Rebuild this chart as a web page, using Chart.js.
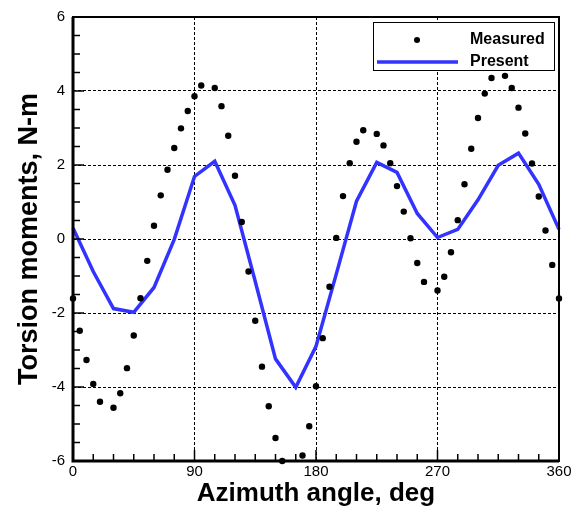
<!DOCTYPE html>
<html>
<head>
<meta charset="utf-8">
<script src="https://cdn.jsdelivr.net/npm/chart.js@4.4.1/dist/chart.umd.min.js"></script>
<style>
  html, body { margin: 0; padding: 0; background: #fff; }
</style>
</head>
<body>
<canvas id="torsionChart" width="584" height="510"></canvas>
<script>
// measured points (deg, N-m) - a few angles have no point in the source
const measuredAngle = [0, 5, 10, 15, 20, 30, 35, 40, 45, 50, 55, 60, 65, 70, 75, 80, 85, 90, 95,
  105, 110, 115, 120, 125, 130, 135, 140, 145, 150, 155, 170, 175, 180, 185, 190, 195, 200,
  205, 210, 215, 225, 230, 235, 240, 245, 250, 255, 260, 270, 275, 280, 285, 290, 295, 300,
  305, 310, 320, 325, 330, 335, 340, 345, 350, 355, 360];
const measuredTorsion = [-1.61, -2.48, -3.27, -3.92, -4.40, -4.56, -4.17, -3.49, -2.61, -1.60, -0.59,
  0.36, 1.18, 1.87, 2.46, 2.99, 3.46, 3.86, 4.15,
  4.08, 3.59, 2.79, 1.71, 0.46, -0.88, -2.21, -3.45, -4.52, -5.38, -6.0, -5.85, -5.06, -3.98, -2.68, -1.29, 0.03, 1.16,
  2.05, 2.63, 2.94, 2.84, 2.53, 2.05, 1.43, 0.74, 0.02, -0.65, -1.16, -1.39, -1.02, -0.36, 0.51, 1.48, 2.44, 3.27,
  3.93, 4.35, 4.41, 4.08, 3.55, 2.85, 2.04, 1.15, 0.23, -0.70, -1.61];

// present computation, every 15 deg
const presentAngle = [0, 15, 30, 45, 60, 75, 90, 105, 120, 135, 150, 165, 180, 195, 210, 225, 240, 255,
  270, 285, 300, 315, 330, 345, 360];
const presentTorsion = [0.30, -0.88, -1.88, -1.98, -1.31, -0.01, 1.69, 2.10, 0.91, -1.15, -3.24, -4.01,
  -2.90, -0.95, 1.02, 2.07, 1.80, 0.69, 0.04, 0.26, 1.06, 1.99, 2.32, 1.48, 0.26];

const xTicks = [0, 90, 180, 270, 360];
const yTicks = [-6, -4, -2, 0, 2, 4, 6];

const blue = 'rgb(51,51,255)';

// inward tick marks + frame, like the original plot
const frameTicks = {
  id: 'frameTicks',
  afterDatasetsDraw(chart) {
    const { ctx, chartArea: a, scales: { x, y } } = chart;
    ctx.save();
    ctx.strokeStyle = '#000';
    ctx.lineWidth = 1.5;
    for (let v = 0; v <= 360; v += 15) {
      const px = x.getPixelForValue(v);
      const len = xTicks.includes(v) ? 11 : 7;
      ctx.beginPath(); ctx.moveTo(px, a.bottom); ctx.lineTo(px, a.bottom - len); ctx.stroke();
    }
    for (let v = -6; v <= 6; v += 0.5) {
      const py = y.getPixelForValue(v);
      const len = yTicks.includes(v) ? 11 : 7;
      ctx.beginPath(); ctx.moveTo(a.left, py); ctx.lineTo(a.left + len, py); ctx.stroke();
    }
    ctx.lineWidth = 2;
    ctx.strokeRect(a.left, a.top, a.right - a.left, a.bottom - a.top);
    ctx.lineWidth = 3;
    ctx.beginPath();
    ctx.moveTo(a.left, a.top); ctx.lineTo(a.left, a.bottom); ctx.lineTo(a.right, a.bottom);
    ctx.stroke();
    ctx.restore();
  }
};

// boxed legend in the top right corner
const boxLegend = {
  id: 'boxLegend',
  afterDraw(chart) {
    const { ctx, chartArea: a } = chart;
    const ds = chart.data.datasets;
    const w = 181, h = 48;
    const bx = a.right - 5 - w, by = a.top + 5;
    ctx.save();
    ctx.fillStyle = '#fff';
    ctx.fillRect(bx, by, w, h);
    ctx.strokeStyle = '#000';
    ctx.lineWidth = 1;
    ctx.strokeRect(bx + 0.5, by + 0.5, w, h);
    ctx.font = 'bold 16px "Liberation Sans", Arial, sans-serif';
    ctx.textBaseline = 'middle';
    ctx.fillStyle = '#000';
    // Measured
    ctx.beginPath();
    ctx.arc(bx + 44, by + 18, 3, 0, Math.PI * 2);
    ctx.fill();
    ctx.fillText(ds[0].label, bx + 97, by + 18);
    // Present
    ctx.strokeStyle = ds[1].borderColor;
    ctx.lineWidth = ds[1].borderWidth;
    ctx.beginPath();
    ctx.moveTo(bx + 4, by + 40); ctx.lineTo(bx + 85, by + 40);
    ctx.stroke();
    ctx.fillText(ds[1].label, bx + 97, by + 40);
    ctx.restore();
  }
};

const ctx = document.getElementById('torsionChart').getContext('2d');
new Chart(ctx, {
  type: 'scatter',
  data: {
    datasets: [
      {
        label: 'Measured',
        data: measuredAngle.map((a, i) => ({ x: a, y: measuredTorsion[i] })),
        pointRadius: 3.2,
        pointBackgroundColor: '#000',
        pointBorderWidth: 0,
        showLine: false,
        clip: false
      },
      {
        label: 'Present',
        data: presentAngle.map((a, i) => ({ x: a, y: presentTorsion[i] })),
        showLine: true,
        borderColor: blue,
        borderWidth: 3.5,
        pointRadius: 0,
        tension: 0,
        clip: 2
      }
    ]
  },
  options: {
    responsive: false,
    animation: false,
    layout: { padding: { left: 0, right: 25, top: 17, bottom: 0 } },
    plugins: { legend: { display: false }, tooltip: { enabled: false } },
    scales: {
      x: {
        type: 'linear',
        min: 0, max: 360,
        afterBuildTicks: s => { s.ticks = xTicks.map(v => ({ value: v })); },
        afterFit: s => { s.height = 49; },
        grid: {
          drawTicks: false,
          color: c => (c.tick && (c.tick.value === 0 || c.tick.value === 360)) ? 'rgba(0,0,0,0)' : '#000',
          lineWidth: 1
        },
        border: { display: false, dash: [3, 2] },
        ticks: {
          color: '#000',
          padding: 2,
          maxRotation: 0,
          font: { family: '"Liberation Sans", Arial, sans-serif', size: 15 }
        },
        title: {
          display: true,
          text: 'Azimuth angle, deg',
          color: '#000',
          padding: { top: 0, bottom: 1 },
          font: { family: '"Liberation Sans", Arial, sans-serif', size: 26, weight: 'bold' }
        }
      },
      y: {
        type: 'linear',
        min: -6, max: 6,
        afterBuildTicks: s => { s.ticks = yTicks.map(v => ({ value: v })); },
        afterFit: s => { s.width = 73; },
        grid: {
          drawTicks: false,
          color: c => (c.tick && (c.tick.value === -6 || c.tick.value === 6)) ? 'rgba(0,0,0,0)' : '#000',
          lineWidth: 1
        },
        border: { display: false, dash: [3, 2] },
        ticks: {
          color: '#000',
          padding: 8,
          font: { family: '"Liberation Sans", Arial, sans-serif', size: 15 }
        },
        title: {
          display: true,
          text: 'Torsion moments, N-m',
          color: '#000',
          padding: { top: 13, bottom: 0 },
          font: { family: '"Liberation Sans", Arial, sans-serif', size: 27, weight: 'bold' }
        }
      }
    }
  },
  plugins: [frameTicks, boxLegend]
});
</script>
</body>
</html>
